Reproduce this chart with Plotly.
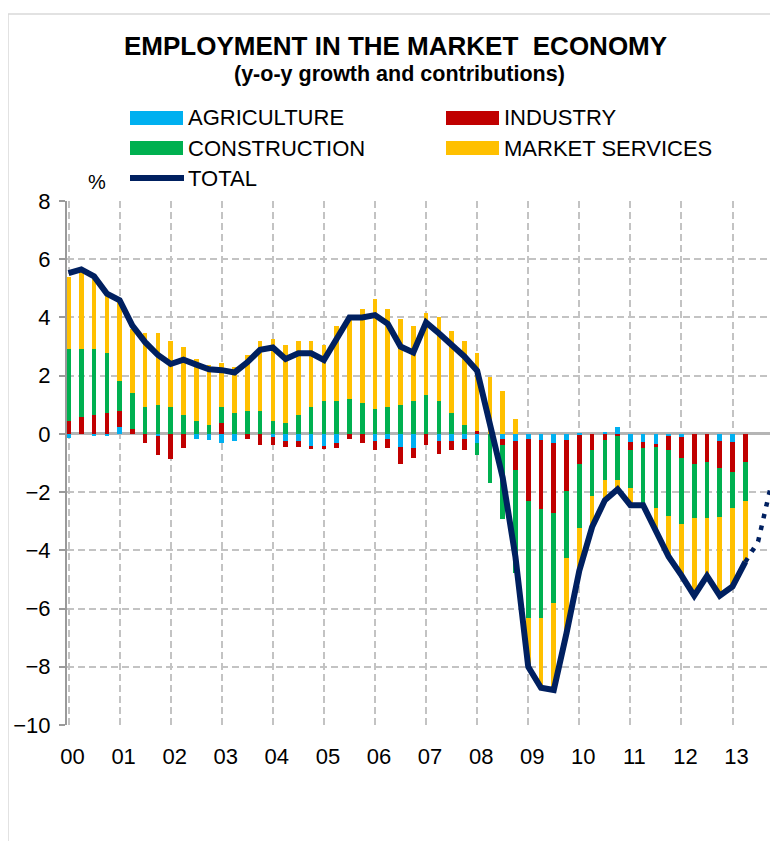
import plotly.graph_objects as go

# quarterly contributions to y-o-y growth, 2000Q1 .. 2013Q2 (pp)
agriculture = [-0.15, 0.0, -0.07, -0.08, 0.24, 0.0, 0.0, -0.06, 0.0, 0.0, -0.16, -0.22, -0.31, -0.24,
               0.0, 0.0, -0.1, -0.24, -0.24, -0.45, -0.45, -0.32, 0.0, 0.0, -0.24, -0.16, -0.45, -0.5,
               0.0, -0.24, -0.24, -0.16, -0.31, 0.0, -0.17, -0.25, -0.18, -0.22, -0.3, -0.21, -0.03,
               0.0, 0.07, 0.25, -0.28, -0.28, -0.34, -0.08, -0.09, 0.0, 0.0, -0.23, -0.29, 0.0]
industry = [0.45, 0.59, 0.65, 0.72, 0.55, 0.17, -0.3, -0.66, -0.85, -0.5, 0.0, 0.0, 0.37, 0.0,
            -0.17, -0.37, -0.28, -0.2, -0.2, -0.06, -0.06, -0.18, -0.16, -0.3, -0.33, -0.34, -0.6, -0.34,
            -0.37, -0.46, -0.33, -0.41, 0.09, 0.0, -0.22, -0.98, -2.13, -2.36, -2.41, -1.75, -1.0,
            -0.55, -0.2, -0.07, -0.27, -0.19, -0.12, -0.49, -0.73, -1.03, -0.97, -0.95, -1.03, -0.97]
construction = [2.45, 2.31, 2.25, 2.06, 1.02, 1.24, 0.92, 0.99, 0.92, 0.64, 0.45, 0.31, 0.55, 0.72,
                0.78, 0.78, 0.45, 0.37, 0.64, 0.92, 1.13, 1.13, 1.19, 1.06, 0.85, 0.92, 0.99, 1.13,
                1.33, 1.13, 0.71, 0.3, -0.42, -1.69, -2.53, -3.56, -4.0, -3.73, -3.1, -2.31, -2.2,
                -1.58, -1.38, -1.52, -1.32, -1.92, -2.1, -2.26, -2.29, -1.86, -1.92, -1.66, -1.23, -1.32]
market_services = [2.5, 2.66, 2.43, 1.97, 2.74, 2.19, 2.55, 2.48, 2.27, 2.36, 2.12, 2.07, 1.51, 1.58,
                   1.94, 2.4, 2.81, 2.68, 2.54, 2.26, 1.92, 2.56, 2.84, 3.23, 3.78, 3.37, 2.96, 2.56,
                   2.83, 2.89, 2.84, 2.9, 2.69, 1.96, 1.47, 0.5, -1.71, -2.43, -3.0, -2.6, -1.5,
                   -1.05, -0.68, -0.33, -0.58, -0.06, -0.8, -1.37, -1.74, -2.67, -2.0, -2.72, -2.7, -2.1]
total = [5.52, 5.65, 5.41, 4.82, 4.59, 3.72, 3.15, 2.71, 2.4, 2.55, 2.38, 2.22, 2.19, 2.11,
         2.46, 2.89, 2.97, 2.57, 2.77, 2.77, 2.54, 3.26, 4.0, 4.0, 4.08, 3.78, 3.0, 2.8,
         3.83, 3.46, 3.09, 2.66, 2.17, 0.3, -1.5, -4.23, -8.0, -8.72, -8.8, -6.84, -4.7,
         -3.2, -2.28, -1.9, -2.45, -2.45, -3.37, -4.22, -4.86, -5.56, -4.88, -5.56, -5.24, -4.4]
# dotted continuation: last actual quarter, then 2013Q3 and 2013Q4
total_outlook = [-4.4, -3.7, -1.8]

year_labels = ["00", "01", "02", "03", "04", "05", "06", "07", "08", "09", "10", "11", "12", "13"]

quarters = list(range(len(total)))
outlook_q = [len(total) - 1, len(total), len(total) + 1]

FONT = "Liberation Sans, Arial, sans-serif"
GRID = "#C3C3C3"

# page offset of the figure (body margin) and plot area in screen pixels
OFF = 8
W, H = 778 - OFF, 841 - OFF
L, R, T, B = 67, 778, 201, 725
def px(x):
    return (x - L) / (R - L)
def py(y):
    return (B - y) / (B - T)

fig = go.Figure()
for name, vals, col in [("AGRICULTURE", agriculture, "#00B0F0"),
                        ("INDUSTRY", industry, "#C00000"),
                        ("CONSTRUCTION", construction, "#00B050"),
                        ("MARKET SERVICES", market_services, "#FFC000")]:
    fig.add_trace(go.Bar(x=quarters, y=vals, name=name, marker_color=col,
                         marker_line_width=0, width=0.36, showlegend=False))

fig.add_trace(go.Scatter(x=outlook_q, y=total_outlook, mode="lines", showlegend=False,
                         line=dict(color="#002060", width=4.5, dash="4.5px,7.5px")))
fig.add_trace(go.Scatter(x=quarters, y=total, mode="lines", name="TOTAL", showlegend=False,
                         line=dict(color="#002060", width=6)))

# legend drawn by hand (wide swatches like the original)
shapes = []
annotations = []
legend_items = [("AGRICULTURE", "#00B0F0", 130, 118, "box"),
                ("INDUSTRY", "#C00000", 446, 118, "box"),
                ("CONSTRUCTION", "#00B050", 130, 148, "box"),
                ("MARKET SERVICES", "#FFC000", 446, 148, "box"),
                ("TOTAL", "#002060", 130, 178, "line")]
for text, col, x0, yc, kind in legend_items:
    if kind == "box":
        shapes.append(dict(type="rect", xref="paper", yref="paper", x0=px(x0), x1=px(x0 + 53),
                           y0=py(yc + 7), y1=py(yc - 7), fillcolor=col, line_width=0, layer="above"))
    else:
        shapes.append(dict(type="line", xref="paper", yref="paper", x0=px(x0), x1=px(x0 + 54),
                           y0=py(yc), y1=py(yc), line=dict(color=col, width=6), layer="above"))
    annotations.append(dict(text=text, xref="paper", yref="paper", x=px(x0 + 56), y=py(yc),
                            xanchor="left", yanchor="middle", showarrow=False,
                            font=dict(size=22, color="black", family=FONT)))

annotations += [
    dict(text="<b>EMPLOYMENT IN THE MARKET  ECONOMY</b>", xref="paper", yref="paper",
         x=px(395), y=py(46), xanchor="center", yanchor="middle", showarrow=False,
         font=dict(size=26, color="black", family=FONT)),
    dict(text="<b>(y-o-y growth and contributions)</b>", xref="paper", yref="paper",
         x=px(399), y=py(74), xanchor="center", yanchor="middle", showarrow=False,
         font=dict(size=21.5, color="black", family=FONT)),
    dict(text="%", xref="paper", yref="paper", x=px(97), y=py(182), xanchor="center",
         yanchor="middle", showarrow=False, font=dict(size=20, color="black", family=FONT)),
]

# light frame around the chart
shapes.append(dict(type="rect", xref="paper", yref="paper", x0=px(8), x1=px(790),
                   y0=py(860), y1=py(14), line=dict(color="#D9D9D9", width=1.5),
                   fillcolor="rgba(0,0,0,0)", layer="below"))

fig.update_layout(
    width=W, height=H,
    margin=dict(l=L - OFF, r=0, t=T - OFF, b=H - (B - OFF)),
    barmode="relative", bargap=0,
    plot_bgcolor="white", paper_bgcolor="white",
    font=dict(family=FONT, color="black", size=22),
    shapes=shapes, annotations=annotations,
    showlegend=False,
    xaxis=dict(range=[-0.12, 55.56], tickvals=quarters[::4], ticktext=year_labels,
               showgrid=True, gridcolor=GRID, gridwidth=1.5, griddash="7px,4px",
               zeroline=False, showline=False, ticks="", ticklabelstandoff=16,
               ticklabelshift=4, tickfont=dict(size=22)),
    yaxis=dict(range=[-10, 8], dtick=2, showgrid=True, gridcolor=GRID, gridwidth=1.5,
               griddash="7px,4px", zeroline=True, zerolinecolor="#B5B5B5", zerolinewidth=2.5,
               showline=True, linecolor="#9A9A9A", linewidth=2, ticks="outside", ticklen=6,
               tickwidth=2, tickcolor="#9A9A9A", ticklabelstandoff=4, tickfont=dict(size=22)),
)

fig.write_html("out.html")
